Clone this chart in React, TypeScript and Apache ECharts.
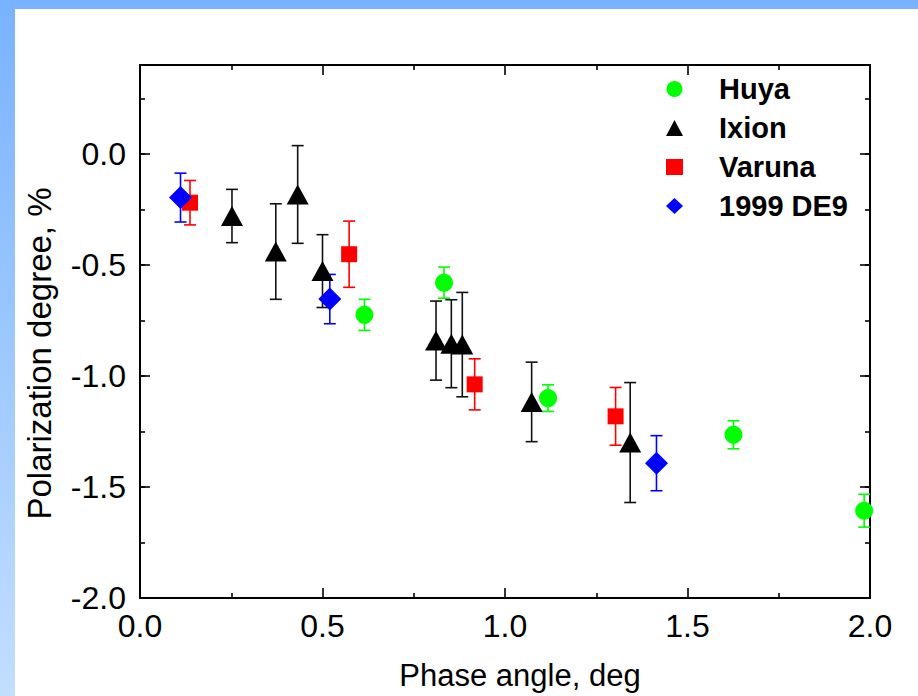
import React, { useEffect, useRef } from "react";
import * as echarts from "echarts";

// Phase angle (deg), polarization degree (%), error (%)
const huyaPhase = [0.615, 0.833, 1.118, 1.626, 1.984];
const huyaPol = [-0.725, -0.58, -1.1, -1.265, -1.607];
const huyaErr = [0.07, 0.07, 0.06, 0.063, 0.074];

const ixionPhase = [0.252, 0.372, 0.432, 0.5, 0.811, 0.853, 0.883, 1.073, 1.343];
const ixionPol = [-0.28, -0.44, -0.183, -0.528, -0.841, -0.855, -0.859, -1.117, -1.3];
const ixionErr = [0.12, 0.215, 0.22, 0.164, 0.178, 0.198, 0.235, 0.179, 0.27];

const varunaPhase = [0.137, 0.573, 0.917, 1.303];
const varunaPol = [-0.22, -0.452, -1.038, -1.182];
const varunaErr = [0.1, 0.149, 0.115, 0.13];

const de9Phase = [0.111, 0.52, 1.415];
const de9Pol = [-0.197, -0.654, -1.393];
const de9Err = [0.11, 0.111, 0.124];

const legendNames = ["Huya", "Ixion", "Varuna", "1999 DE9"];

const FONT = "'Liberation Sans', Arial, Helvetica, sans-serif";

function errorBars(name: string, color: string, phase: number[], pol: number[], err: number[]) {
  return {
    type: "custom",
    name,
    silent: true,
    xAxisIndex: 0,
    yAxisIndex: 0,
    data: phase.map((p, i) => [p, pol[i], err[i]]),
    encode: { x: 0, y: 1 },
    renderItem: (_params: any, api: any) => {
      const x = api.value(0);
      const y = api.value(1);
      const e = api.value(2);
      const top = api.coord([x, y + e]);
      const bot = api.coord([x, y - e]);
      const hw = 6;
      const style = { stroke: color, lineWidth: 1.6, fill: null };
      return {
        type: "group",
        children: [
          { type: "line", shape: { x1: top[0], y1: top[1], x2: bot[0], y2: bot[1] }, style },
          { type: "line", shape: { x1: top[0] - hw, y1: top[1], x2: top[0] + hw, y2: top[1] }, style },
          { type: "line", shape: { x1: bot[0] - hw, y1: bot[1], x2: bot[0] + hw, y2: bot[1] }, style },
        ],
      };
    },
  };
}

function points(name: string, color: string, symbol: string, size: any, phase: number[], pol: number[]) {
  return {
    type: "scatter",
    name,
    xAxisIndex: 0,
    yAxisIndex: 0,
    symbol,
    symbolSize: size,
    itemStyle: { color, opacity: 1 },
    emphasis: { disabled: true },
    data: phase.map((p, i) => [p, pol[i]]),
  };
}

const axisLine = { show: true, onZero: false, lineStyle: { color: "#000", width: 2 } };
const majorTick = (len: number) => ({ show: true, inside: true, length: len, lineStyle: { color: "#000", width: 1.6 } });

export default function App() {
  const ref = useRef<HTMLDivElement>(null);
  useEffect(() => {
    if (!ref.current) return;
    const chart = echarts.init(ref.current, undefined, { renderer: "svg" });
    const option: any = {
      animation: false,
      backgroundColor: "transparent",
      grid: { left: 140, top: 65, right: 48, bottom: 95, containLabel: false },
      legend: {
        orient: "vertical",
        left: 666,
        top: 74,
        padding: 0,
        itemWidth: 17,
        itemHeight: 16,
        itemGap: 9,
        selectedMode: false,
        data: [
          { name: legendNames[0], icon: "circle" },
          { name: legendNames[1], icon: "triangle" },
          { name: legendNames[2], icon: "rect" },
          { name: legendNames[3], icon: "diamond" },
        ],
        textStyle: {
          fontSize: 29,
          fontWeight: "bold",
          fontFamily: FONT,
          color: "#000",
          lineHeight: 30,
          padding: [0, 0, 0, 31],
        },
      },
      xAxis: [
        {
          type: "value",
          position: "bottom",
          min: 0,
          max: 2,
          interval: 0.5,
          axisLine,
          axisTick: majorTick(10),
          minorTick: { show: true, splitNumber: 2, length: 5, lineStyle: { color: "#000", width: 1.6 } },
          splitLine: { show: false },
          minorSplitLine: { show: false },
          axisLabel: {
            fontSize: 32,
            fontFamily: FONT,
            color: "#000",
            margin: 12,
            formatter: (v: number) => v.toFixed(1),
          },
          name: "Phase angle, deg",
          nameLocation: "middle",
          nameGap: 62,
          nameTextStyle: { fontSize: 31, fontFamily: FONT, color: "#000", padding: [0, 0, 0, 30] },
        },
        {
          type: "value",
          position: "top",
          min: 0,
          max: 2,
          interval: 0.5,
          axisLine,
          axisTick: majorTick(10),
          minorTick: { show: true, splitNumber: 2, length: 5, lineStyle: { color: "#000", width: 1.6 } },
          splitLine: { show: false },
          axisLabel: { show: false },
        },
      ],
      yAxis: [
        {
          type: "value",
          position: "left",
          min: -2,
          max: 0.4,
          interval: 0.5,
          axisLine,
          axisTick: majorTick(10),
          splitLine: { show: false },
          axisLabel: {
            fontSize: 32,
            fontFamily: FONT,
            color: "#000",
            margin: 14,
            showMaxLabel: false,
            formatter: (v: number) => (Math.abs(v * 2 - Math.round(v * 2)) < 1e-6 ? v.toFixed(1) : ""),
          },
          name: "Polarization degree, %",
          nameLocation: "middle",
          nameGap: 84,
          nameRotate: 90,
          nameTextStyle: { fontSize: 33, fontFamily: FONT, color: "#000", padding: [0, 44, 0, 0] },
        },
        {
          type: "value",
          position: "left",
          min: -2,
          max: 0.4,
          interval: 0.25,
          axisLine: { show: false, onZero: false },
          axisTick: majorTick(5),
          splitLine: { show: false },
          axisLabel: { show: false },
        },
        {
          type: "value",
          position: "right",
          min: -2,
          max: 0.4,
          interval: 0.5,
          axisLine,
          axisTick: majorTick(10),
          splitLine: { show: false },
          axisLabel: { show: false },
        },
        {
          type: "value",
          position: "right",
          min: -2,
          max: 0.4,
          interval: 0.25,
          axisLine: { show: false, onZero: false },
          axisTick: majorTick(5),
          splitLine: { show: false },
          axisLabel: { show: false },
        },
      ],
      series: [
        errorBars("Huya error", "#00ff00", huyaPhase, huyaPol, huyaErr),
        points(legendNames[0], "#00ff00", "circle", 18, huyaPhase, huyaPol),
        errorBars("Ixion error", "#111111", ixionPhase, ixionPol, ixionErr),
        points(legendNames[1], "#000000", "triangle", [22, 20], ixionPhase, ixionPol),
        errorBars("Varuna error", "#ff0000", varunaPhase, varunaPol, varunaErr),
        points(legendNames[2], "#ff0000", "rect", 16, varunaPhase, varunaPol),
        errorBars("1999 DE9 error", "#0000ff", de9Phase, de9Pol, de9Err),
        points(legendNames[3], "#0000ff", "diamond", [23, 23], de9Phase, de9Pol),
      ],
    };
    chart.setOption(option);
    return () => chart.dispose();
  }, []);

  return (
    <div
      style={{
        position: "fixed",
        left: 0,
        top: 0,
        width: 918,
        height: 696,
        background: "linear-gradient(to bottom, #78b2ff, #c2deff)",
        overflow: "hidden",
      }}
    >
      <div style={{ position: "absolute", left: 0, top: 0, width: 918, height: 9, background: "#79b3ff" }} />
      <div style={{ position: "absolute", left: 15, top: 9, width: 903, height: 687, background: "#ffffff" }} />
      <div ref={ref} style={{ position: "absolute", left: 0, top: 0, width: 918, height: 696 }} />
    </div>
  );
}
